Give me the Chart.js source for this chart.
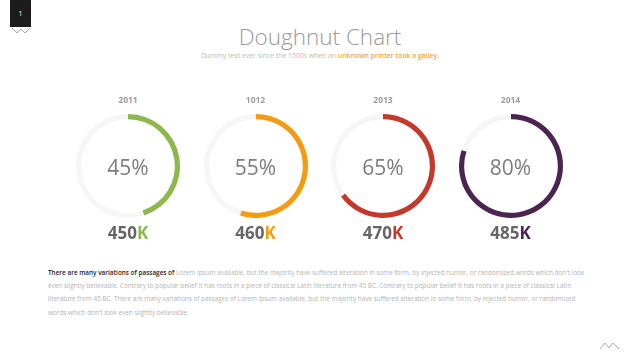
<!DOCTYPE html>
<html>
<head>
<meta charset="utf-8">
<script src="https://cdn.jsdelivr.net/npm/chart.js@4/dist/chart.umd.min.js"></script>
<style>
  html, body { margin:0; padding:0; width:640px; height:360px; background:#fff; overflow:hidden; font-family:"Open Sans", "Liberation Sans", sans-serif; }
  #page { position:relative; width:640px; height:360px; }
  .badge { position:absolute; left:10px; top:0; width:21px; height:27px; background:#1b1b1b; color:#fff; font-size:7px; text-align:center; line-height:27px; }
  .title { position:absolute; left:0; width:640px; top:25px; text-align:center; font-size:22.5px; font-weight:300; color:#9a9a9a; line-height:24px; }
  .subtitle { position:absolute; left:0; width:640px; top:50.5px; text-align:center; font-size:6.85px; color:#bdbdbd; line-height:9px; }
  .subtitle b { color:#f6a431; font-weight:600; }
  .col { position:absolute; top:90px; width:128px; height:160px; }
  .year { position:absolute; left:0; width:100%; top:4px; text-align:center; font-size:8.5px; font-weight:700; color:#9c9c9c; line-height:12px; }
  .ring { position:absolute; left:12px; top:23.5px; width:104px; height:104px; }
  .pct { position:absolute; left:0; width:100%; top:62px; text-align:center; font-size:21px; color:#7d7d7d; line-height:30px; }
  .total { position:absolute; left:0; width:100%; top:131px; text-align:center; font-size:17px; font-weight:700; color:#666; line-height:24px; }
  .body { position:absolute; left:48px; top:266px; font-size:6.4px; line-height:13.2px; color:#b3b3b3; }
  .body div { white-space:nowrap; }
  .body b { color:#222; font-weight:600; }
</style>
</head>
<body>
<div id="page">
  <div class="badge">1</div>
  <svg style="position:absolute;left:11px;top:27px" width="20" height="7" viewBox="0 0 20 7">
    <polyline points="1,1 6,6 10,2 14,6 19,1" fill="none" stroke="#9a9a9a" stroke-width="0.9"/>
  </svg>
  <div class="title">Doughnut Chart</div>
  <div class="subtitle">Dummy text ever since the 1500s when an <b>unknown printer took a galley.</b></div>
  <div id="cols"></div>
  <div class="body">
    <div><b>There are many variations of passages of</b> Lorem Ipsum available, but the majority have suffered alteration in some form, by injected humor, or randomized words which don't look</div>
    <div>even slightly believable. Contrary to popular belief It has roots in a piece of classical Latin literature from 45 BC. Contrary to popular belief It has roots in a piece of classical Latin</div>
    <div>literature from 45 BC. There are many variations of passages of Lorem Ipsum available, but the majority have suffered alteration in some form, by injected humor, or randomized</div>
    <div>words which don't look even slightly believable.</div>
  </div>
  <svg style="position:absolute;left:599px;top:341px" width="21" height="9" viewBox="0 0 21 9">
    <polyline points="1,8 6,2 10,7 14,2 20,8" fill="none" stroke="#a0a0a0" stroke-width="0.9"/>
  </svg>
</div>
<script>
const years = ['2011', '1012', '2013', '2014'];
const percents = [45, 55, 65, 80];
const totals = ['450', '460', '470', '485'];
const totalUnit = 'K';
const colors = ['#8cb84e', '#f39c12', '#c4392c', '#4b2550'];
const trackColor = '#f6f6f6';

const cols = document.getElementById('cols');
years.forEach((yr, i) => {
  const col = document.createElement('div');
  col.className = 'col';
  col.style.left = (64 + i * 127.5) + 'px';
  col.innerHTML =
    '<div class="year">' + yr + '</div>' +
    '<div class="ring"><canvas width="104" height="104"></canvas></div>' +
    '<div class="pct">' + percents[i] + '%</div>' +
    '<div class="total">' + totals[i] + '<span style="color:' + colors[i] + '">' + totalUnit + '</span></div>';
  cols.appendChild(col);
  const cv = col.querySelector('canvas');
  new Chart(cv, {
    type: 'doughnut',
    data: {
      labels: ['value', 'rest'],
      datasets: [{
        data: [percents[i], 100 - percents[i]],
        backgroundColor: [colors[i], trackColor],
        borderWidth: 0
      }]
    },
    options: {
      responsive: false,
      animation: false,
      cutout: '90%',
      events: [],
      layout: { padding: 0 },
      plugins: { legend: { display: false }, tooltip: { enabled: false } }
    }
  });
});
</script>
</body>
</html>
